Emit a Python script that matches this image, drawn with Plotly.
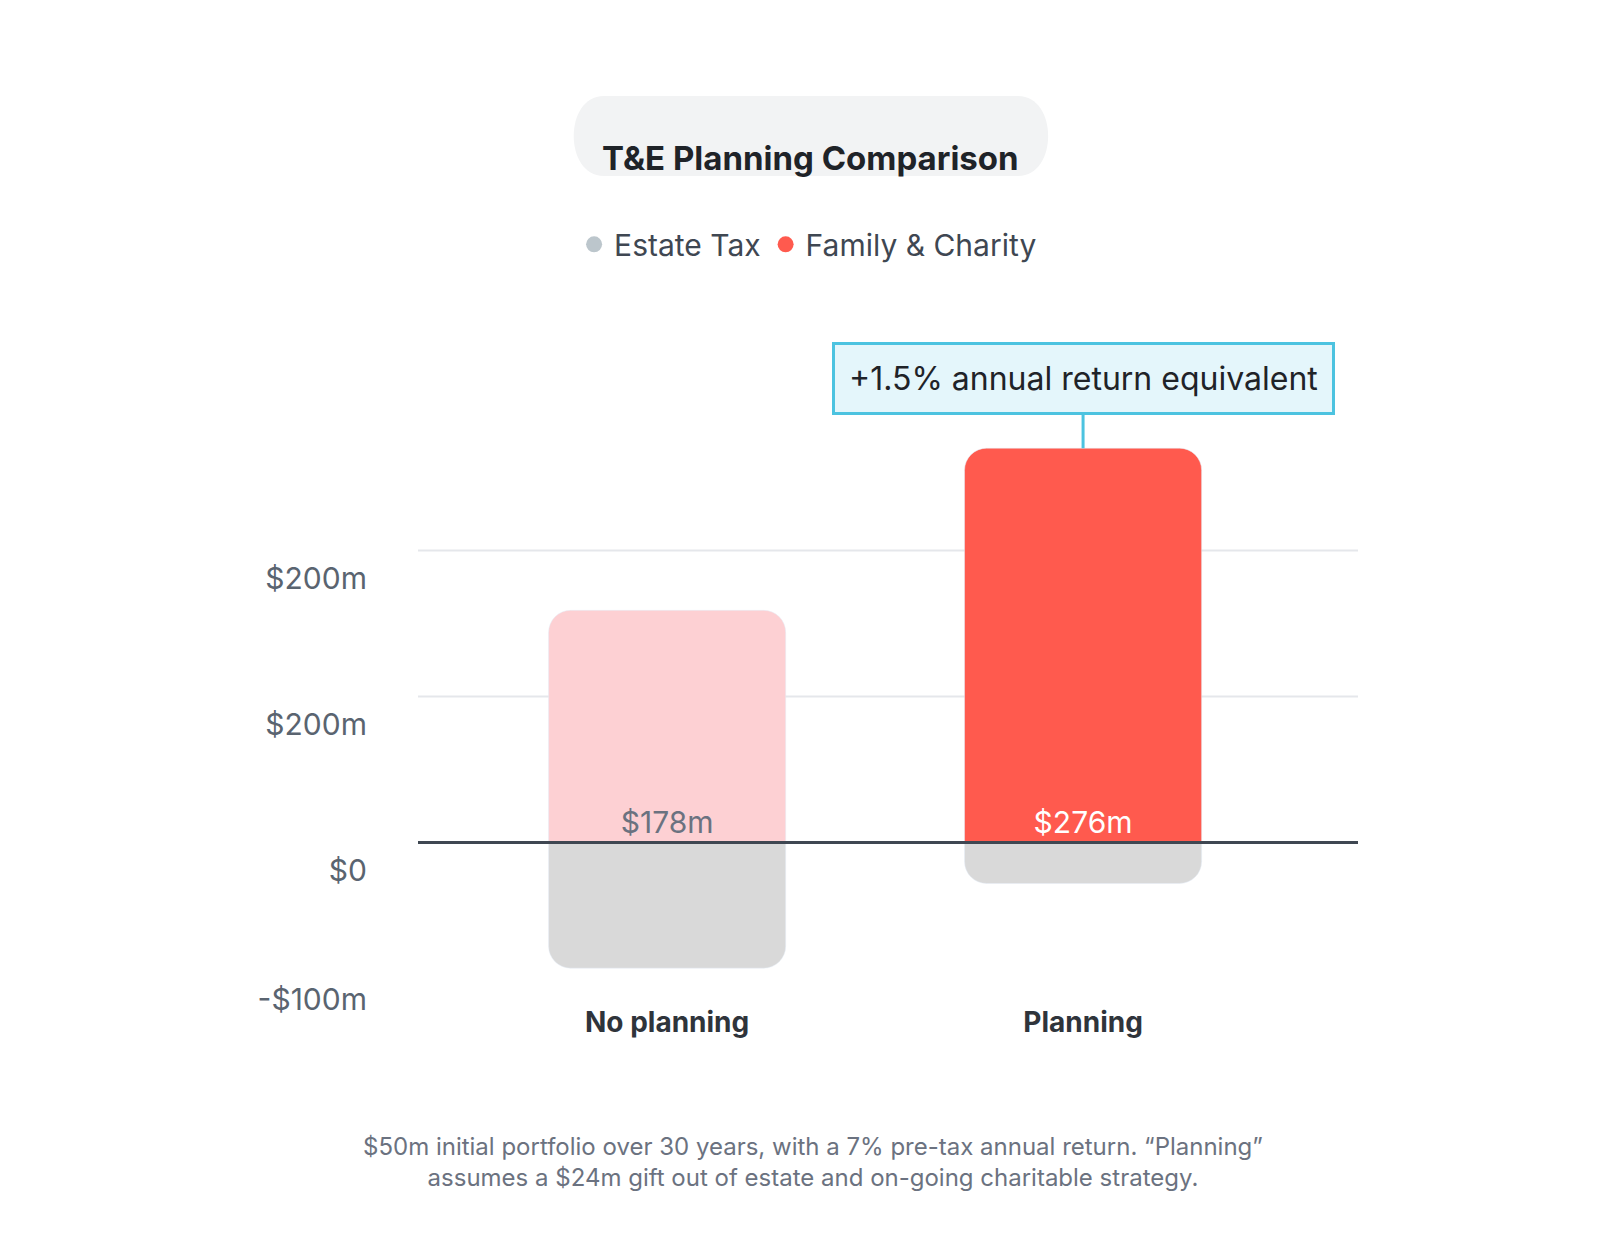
import plotly.graph_objects as go

categories = ["No planning", "Planning"]
family_values = [159, 270]
family_labels = ["$178m", "$276m"]
tax_values = [-86, -28]
family_colors = ["#FDD0D3", "#FF5A4E"]
label_colors = ["#6B7280", "#FFFFFF"]
tick_vals = [-88, 0, 100, 200]
tick_text = ["-$100m", "$0", "$200m", "$200m"]
grid_vals = [100, 200]

FONT = "Inter, Lato, sans-serif"
xpos = list(range(len(categories)))

fig = go.Figure()
fig.add_bar(x=xpos, y=family_values, marker_color=family_colors, width=0.57,
            text=family_labels, textposition="inside", insidetextanchor="start",
            textfont=dict(size=30, color=label_colors, family=FONT), showlegend=False,
            hoverinfo="skip")
fig.add_bar(x=xpos, y=tax_values, marker_color="#D9D9D9", width=0.57, showlegend=False,
            hoverinfo="skip")
# legend-only entries
fig.add_scatter(x=[None], y=[None], mode="markers", name="Estate Tax",
                marker=dict(color="#BCC6CC", size=22))
fig.add_scatter(x=[None], y=[None], mode="markers", name="Family & Charity",
                marker=dict(color="#FF5A4E", size=22))

for g in grid_vals:
    fig.add_shape(type="line", xref="paper", x0=0, x1=1, y0=g, y1=g,
                  line=dict(color="#E5E7EB", width=2), layer="below")
fig.add_shape(type="line", xref="paper", x0=0, x1=1, y0=0, y1=0,
              line=dict(color="#3F4752", width=3))

# title pill
x0, x1, y0, y1 = 0.155, 0.681, 1.1927, 1.3095
rx, ry = 0.0426, 0.0584
path = (f"M {x0+rx},{y0} L {x1-rx},{y0} C {x1},{y0} {x1},{y1} {x1-rx},{y1} "
        f"L {x0+rx},{y1} C {x0},{y1} {x0},{y0} {x0+rx},{y0} Z")
fig.add_shape(type="path", xref="paper", yref="paper", path=path,
              fillcolor="#F2F3F4", line=dict(width=0))
fig.add_annotation(xref="paper", yref="paper", x=(x0+x1)/2, y=(y0+y1)/2,
                   text="<b>T&E Planning Comparison</b>", showarrow=False,
                   font=dict(size=33, color="#1F2328", family=FONT))

fig.add_annotation(x=1, y=family_values[1], text="+1.5% annual return equivalent",
                   showarrow=True, arrowhead=0, arrowwidth=3, arrowcolor="#4CC3E0",
                   ax=0, ay=-70, standoff=0, bgcolor="#E4F6FB", bordercolor="#4CC3E0",
                   borderwidth=3, borderpad=14,
                   font=dict(size=32, color="#1F2328", family=FONT))

fig.add_annotation(xref="paper", yref="paper", x=0.42, y=-0.2,
                   text="$50m initial portfolio over 30 years, with a 7% pre-tax annual return. “Planning”<br>assumes a $24m gift out of estate and on-going charitable strategy.",
                   showarrow=False, font=dict(size=24, color="#6B7280", family=FONT),
                   align="center", yanchor="top")

fig.update_layout(
    width=1600, height=1255, barmode="relative", barcornerradius=22,
    margin=dict(l=410, r=250, t=300, b=270),
    paper_bgcolor="white", plot_bgcolor="white",
    font=dict(family=FONT),
    legend=dict(orientation="h", x=0.415, xanchor="center", y=1.093, yanchor="middle",
                font=dict(size=30, color="#3F4752")),
    xaxis=dict(range=[-0.599, 1.661], tickvals=xpos,
               ticktext=[f"<b>{c}</b>" for c in categories], showgrid=False,
               zeroline=False, tickfont=dict(size=28, color="#2F343B"), ticklabelstandoff=10),
    yaxis=dict(range=[-103, 366], tickvals=tick_vals, ticktext=tick_text, showgrid=False,
               zeroline=False, tickfont=dict(size=30, color="#5A6470"),
               ticklabelshift=28, ticklabelstandoff=50),
)
fig.write_html("out.html")
